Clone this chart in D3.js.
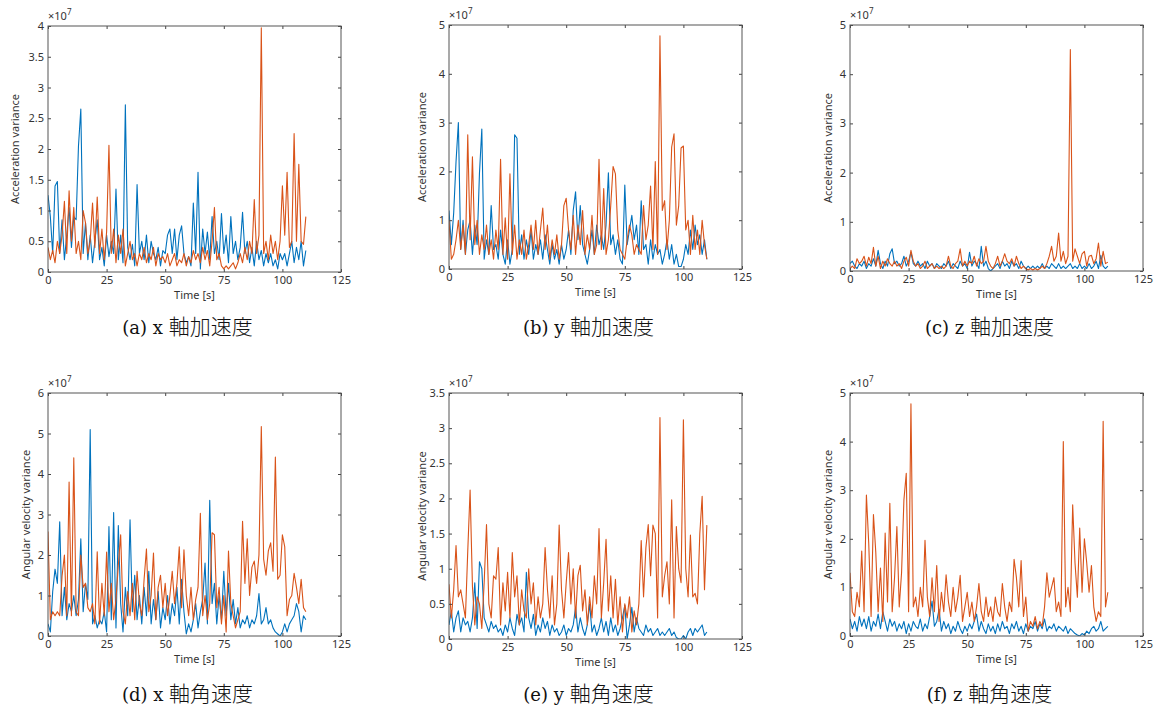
<!DOCTYPE html>
<html>
<head>
<meta charset="utf-8">
<script src="https://cdn.jsdelivr.net/npm/d3@7"></script>
<style>
  body { margin: 0; background: #fff; }
  svg text { font-family: "Noto Sans", sans-serif; }
</style>
</head>
<body>
<svg id="chart" width="1159" height="713"></svg>
<script>
// variance values, in units of 1e7, one sample per second (t = 0 .. 110)
const accXBlue = [
  1.25,0.9,0.3,1.4,1.47,0.3,0.85,0.2,0.6,1.05,
  0.4,0.9,0.85,2.05,2.65,0.3,0.8,0.2,0.6,0.15,
  0.5,0.85,0.2,0.4,0.1,0.6,0.25,0.5,0.3,1.35,
  0.2,0.6,0.15,2.72,0.4,0.2,0.45,0.1,1.42,0.3,
  0.5,0.2,0.6,0.15,0.5,0.3,0.2,0.4,0.1,0.35,
  0.3,0.6,0.7,0.3,0.7,0.2,0.6,0.75,0.3,0.15,
  0.25,0.1,1.12,0.3,1.62,0.05,0.7,0.3,0.65,0.2,
  0.9,0.3,0.5,0.2,0.95,0.3,0.6,0.15,0.9,0.3,
  0.5,0.2,0.4,0.97,0.3,0.5,0.15,0.4,0.1,0.5,
  0.2,0.35,0.1,0.3,0.15,0.3,0.1,0.2,0.05,0.3,
  0.2,0.3,0.1,0.3,0.5,0.15,0.4,0.2,0.5,0.1,0.35
];
const accXOrange = [
  0.4,0.2,0.35,0.15,0.5,0.3,0.6,1.15,0.3,1.32,
  0.5,1.05,0.3,0.5,0.2,1.0,0.8,0.3,0.5,1.12,
  0.4,1.22,0.3,0.7,0.2,0.65,2.06,0.3,0.7,0.15,
  0.6,0.3,0.7,0.1,0.3,0.5,0.2,0.3,0.1,0.3,
  0.2,0.4,0.15,0.3,0.2,0.4,0.1,0.3,0.2,0.25,
  0.15,0.3,0.1,0.2,0.3,0.1,0.2,0.15,0.3,0.1,
  0.25,0.15,0.35,0.2,0.3,0.15,0.4,0.2,0.35,0.1,
  0.5,1.05,0.2,0.3,0.1,0.05,0.1,0.05,0.1,0.15,
  0.05,0.15,0.3,0.15,0.4,0.2,0.5,0.3,1.18,0.3,
  0.6,3.97,0.3,0.5,0.2,0.6,0.3,0.5,0.2,0.5,
  1.4,0.6,1.62,0.4,0.5,2.25,0.5,1.75,0.5,0.45,0.9
];
const accYBlue = [
  1.2,0.5,1.15,2.2,3.0,0.4,1.0,0.3,0.8,1.0,
  0.3,0.9,0.5,1.97,2.87,0.2,0.6,0.3,1.3,0.4,
  0.5,0.2,0.8,0.3,0.1,0.6,0.1,0.4,2.75,2.68,
  0.3,0.7,0.2,0.6,0.3,0.8,0.2,0.5,0.3,0.6,
  0.2,0.7,0.4,0.1,0.5,0.2,0.4,0.1,0.5,0.2,
  0.4,0.8,0.3,1.2,1.58,0.6,1.3,0.5,0.3,0.1,
  0.4,0.8,0.3,0.9,0.5,0.7,0.4,0.9,1.97,0.5,
  0.7,0.3,0.6,0.2,0.1,1.72,0.5,0.8,1.1,0.6,
  0.9,0.3,1.4,0.4,0.5,0.1,0.6,0.2,0.5,0.3,
  0.4,0.1,0.3,0.6,0.2,0.5,0.1,0.3,0.05,0.05,
  0.2,0.5,0.3,0.8,0.4,0.9,0.5,0.7,0.3,0.6,0.2
];
const accYOrange = [
  1.0,0.2,0.3,0.6,1.0,0.4,0.9,0.3,2.75,0.6,
  2.3,0.5,1.0,0.3,0.7,0.4,0.9,0.3,0.6,0.2,
  0.8,0.4,2.25,0.3,1.05,0.2,1.95,0.3,0.9,0.2,
  0.6,0.3,0.8,0.2,0.5,0.9,0.4,1.0,0.3,0.8,
  1.25,0.4,0.9,0.2,0.6,0.3,0.7,0.2,0.5,1.3,
  1.45,0.8,0.4,1.1,0.3,0.9,0.5,1.2,0.3,0.7,
  0.4,1.1,0.3,0.5,2.25,0.4,1.65,0.3,0.6,1.3,
  2.1,1.95,0.8,0.4,0.3,0.2,0.6,0.9,0.7,0.3,
  0.5,0.4,0.3,1.3,0.6,0.9,1.7,0.4,2.2,0.3,
  4.78,1.2,1.4,0.4,1.0,2.5,2.77,0.9,1.3,2.48,
  2.52,0.8,1.0,0.3,1.1,0.4,0.8,0.3,1.0,0.5,0.2
];
const accZBlue = [
  0.15,0.2,0.1,0.05,0.15,0.1,0.2,0.05,0.15,0.1,
  0.25,0.1,0.42,0.15,0.05,0.2,0.1,0.35,0.45,0.15,
  0.2,0.1,0.15,0.3,0.1,0.2,0.38,0.15,0.1,0.2,
  0.1,0.15,0.05,0.2,0.1,0.15,0.05,0.15,0.1,0.05,
  0.15,0.1,0.2,0.05,0.15,0.1,0.05,0.2,0.1,0.15,
  0.05,0.38,0.1,0.2,0.15,0.05,0.5,0.1,0.2,0.05,
  0.0,0.05,0.1,0.15,0.05,0.2,0.1,0.15,0.05,0.2,
  0.1,0.15,0.05,0.2,0.1,0.05,0.1,0.05,0.1,0.05,
  0.1,0.05,0.15,0.05,0.1,0.05,0.15,0.1,0.05,0.15,
  0.05,0.1,0.05,0.1,0.15,0.05,0.1,0.05,0.15,0.05,
  0.1,0.05,0.15,0.05,0.1,0.2,0.05,0.32,0.1,0.05,0.1
];
const accZOrange = [
  0.05,0.1,0.05,0.25,0.15,0.2,0.3,0.1,0.28,0.15,
  0.48,0.1,0.3,0.05,0.2,0.1,0.25,0.15,0.1,0.2,
  0.1,0.15,0.05,0.2,0.28,0.1,0.42,0.2,0.1,0.15,
  0.05,0.1,0.2,0.05,0.1,0.15,0.05,0.1,0.05,0.1,
  0.05,0.1,0.3,0.1,0.05,0.15,0.2,0.45,0.1,0.2,
  0.1,0.2,0.15,0.3,0.1,0.25,0.15,0.2,0.5,0.2,
  0.1,0.05,0.15,0.3,0.1,0.2,0.35,0.2,0.15,0.25,
  0.1,0.3,0.15,0.05,0.1,0.05,0.02,0.05,0.02,0.05,
  0.02,0.05,0.1,0.05,0.15,0.3,0.5,0.2,0.3,0.77,
  0.2,0.4,0.15,0.3,4.5,0.2,0.45,0.3,0.15,0.35,
  0.4,0.1,0.3,0.32,0.15,0.25,0.57,0.1,0.4,0.15,0.18
];
const angXBlue = [
  0.3,0.1,1.1,1.65,1.3,2.82,0.5,1.2,0.4,0.8,
  0.6,1.0,0.5,0.9,2.4,0.6,1.3,0.9,5.1,0.3,
  0.5,0.2,0.4,0.3,0.6,0.1,2.7,0.4,3.05,0.2,
  2.73,0.8,0.1,1.2,0.5,2.87,0.6,1.5,0.4,1.0,
  0.3,1.2,0.5,1.6,0.3,0.9,0.4,1.1,0.2,0.7,
  0.4,1.0,0.3,0.8,0.5,1.2,0.3,1.4,0.6,0.05,
  0.3,0.1,0.4,0.8,0.2,0.6,0.9,1.8,0.3,3.35,
  0.8,1.3,0.3,1.0,0.4,1.6,0.5,1.3,0.4,0.9,
  0.3,0.7,0.2,0.4,0.3,0.5,0.2,0.4,0.3,0.5,
  1.05,0.3,0.4,0.7,0.3,0.4,0.2,0.1,0.05,0.0,
  0.1,0.3,0.1,0.3,0.4,0.5,0.8,0.6,0.1,0.5,0.4
];
const angXOrange = [
  2.58,0.4,0.6,0.5,0.6,0.5,1.48,2.0,0.5,3.8,
  0.5,4.4,0.6,0.5,2.0,1.2,1.3,0.7,0.6,0.8,
  0.3,2.08,0.3,1.3,0.5,2.07,0.6,1.3,0.4,0.9,
  1.75,2.5,0.6,0.3,1.1,0.5,1.3,0.4,1.6,0.8,
  0.5,1.4,2.15,0.6,1.0,2.05,0.4,1.2,1.5,0.7,
  1.3,0.5,1.0,1.6,0.8,1.3,2.2,0.7,2.13,1.0,
  0.5,1.2,0.4,0.9,1.2,3.03,0.5,1.0,0.4,0.8,
  2.55,2.5,0.7,1.2,0.3,1.0,0.1,2.1,0.8,0.5,
  0.2,0.4,0.6,2.83,1.3,2.4,1.0,1.7,1.85,1.3,
  2.0,5.17,1.9,1.5,2.1,2.3,1.6,4.42,1.4,1.5,
  2.5,2.2,0.5,0.9,1.0,1.55,1.2,0.8,1.4,0.7,0.6
];
const angYBlue = [
  0.2,0.4,0.1,0.3,0.4,0.1,0.3,0.2,0.25,0.1,
  0.3,0.8,0.15,1.1,1.0,0.3,0.2,0.1,0.25,0.15,
  0.2,0.1,0.15,0.05,0.2,0.1,0.3,0.15,0.05,0.35,
  0.2,0.3,0.1,0.95,0.3,0.15,0.35,0.05,0.2,0.1,
  0.3,0.15,0.25,0.05,0.2,0.1,0.15,0.05,0.1,0.2,
  0.05,0.15,0.1,0.2,0.45,0.1,0.3,0.15,0.05,0.2,
  0.5,0.1,0.2,0.05,0.15,0.3,0.1,0.25,0.05,0.3,
  0.1,0.2,0.05,0.15,0.3,0.48,0.0,0.2,0.45,0.1,
  0.3,0.15,0.1,0.05,0.2,0.1,0.15,0.05,0.1,0.15,
  0.05,0.1,0.05,0.1,0.15,0.05,0.1,0.02,0.0,0.0,
  0.05,0.0,0.1,0.15,0.05,0.15,0.1,0.15,0.2,0.05,0.1
];
const angYOrange = [
  0.78,0.3,0.7,1.33,0.6,0.7,0.5,0.3,1.25,2.12,
  0.75,0.2,0.6,0.5,0.15,0.8,1.63,0.5,0.3,0.9,
  0.85,1.3,0.2,0.8,0.4,0.95,0.3,1.23,0.6,0.9,
  0.2,0.7,0.4,0.3,1.0,0.5,0.8,0.2,0.6,0.3,
  0.5,1.3,0.7,0.3,0.9,0.2,0.5,1.62,0.7,0.3,
  0.8,1.23,0.5,1.0,0.3,0.9,1.05,0.4,0.7,0.2,
  0.6,0.3,0.9,0.5,1.57,0.3,0.8,1.42,0.4,0.9,
  0.3,0.85,0.2,0.6,0.1,0.5,0.3,0.6,0.1,0.4,
  0.2,0.5,1.4,0.6,1.3,1.63,0.9,1.62,1.5,0.3,
  3.15,0.6,0.9,1.1,0.5,1.98,0.3,1.6,1.0,0.8,
  3.12,1.0,0.6,1.48,0.6,0.65,0.5,1.5,2.03,0.7,1.62
];
const angZBlue = [
  0.35,0.15,0.3,0.1,0.4,0.2,0.35,0.15,0.4,0.1,
  0.3,0.2,0.45,0.15,0.5,0.3,0.1,0.35,0.2,0.3,
  0.1,0.25,0.15,0.3,0.05,0.25,0.1,0.3,0.2,0.15,
  0.35,0.1,0.25,0.15,0.4,0.72,0.2,0.3,0.55,0.1,
  0.3,0.15,0.25,0.05,0.2,0.1,0.3,0.15,0.05,0.2,
  0.1,0.25,0.15,0.3,0.45,0.1,0.3,0.15,0.05,0.25,
  0.1,0.2,0.05,0.25,0.1,0.3,0.15,0.2,0.05,0.25,
  0.15,0.3,0.1,0.2,0.05,0.25,0.1,0.2,0.15,0.3,
  0.1,0.25,0.15,0.35,0.1,0.2,0.15,0.25,0.1,0.2,
  0.15,0.1,0.2,0.05,0.15,0.1,0.05,0.02,0.0,0.05,
  0.02,0.1,0.05,0.15,0.2,0.1,0.15,0.3,0.1,0.15,0.2
];
const angZOrange = [
  1.3,0.5,0.4,0.9,0.6,1.75,0.5,2.9,1.9,0.4,
  2.5,1.72,0.5,1.4,0.3,2.12,0.7,2.73,0.5,1.2,
  2.25,0.6,1.3,2.8,3.35,0.5,4.78,0.6,0.8,0.4,
  1.0,0.6,1.97,0.8,0.4,1.2,0.5,1.45,0.3,0.9,
  0.5,1.26,0.7,0.4,1.0,0.5,0.8,1.25,0.3,0.6,
  0.9,0.4,0.7,0.3,0.6,1.08,0.5,0.3,0.8,0.4,
  0.6,0.3,0.8,0.5,0.4,1.08,0.6,0.3,0.7,0.5,
  1.58,1.2,0.6,1.55,0.4,0.8,0.1,0.3,0.2,0.4,
  0.15,0.3,0.2,0.6,1.3,0.8,1.0,1.2,0.5,0.7,
  0.4,4.0,0.6,1.0,0.5,2.7,1.5,0.8,2.22,0.9,
  2.0,1.5,0.9,1.45,0.6,0.3,0.5,0.4,4.42,0.6,0.9
];

// tick labels
const timeTicks = [0, 25, 50, 75, 100, 125];
const ticks4 = [0, 0.5, 1, 1.5, 2, 2.5, 3, 3.5, 4];
const ticks5 = [0, 1, 2, 3, 4, 5];
const ticks6 = [0, 1, 2, 3, 4, 5, 6];
const ticks35 = [0, 0.5, 1, 1.5, 2, 2.5, 3, 3.5];

const captions = ['(a) x ', '(b) y ', '(c) z ', '(d) x ', '(e) y ', '(f) z '];
const captionKanji = ['軸加速度', '軸加速度', '軸加速度', '軸角速度', '軸角速度', '軸角速度'];

const panels = [
  { blue: accXBlue, orange: accXOrange, yTicks: ticks4, yLabel: 'Acceleration variance', box: [48, 26, 341, 272], labelGap: 33, capY: 334 },
  { blue: accYBlue, orange: accYOrange, yTicks: ticks5, yLabel: 'Acceleration variance', box: [449, 25, 742, 269], labelGap: 27, capY: 334 },
  { blue: accZBlue, orange: accZOrange, yTicks: ticks5, yLabel: 'Acceleration variance', box: [850, 25, 1143, 271], labelGap: 22, capY: 334 },
  { blue: angXBlue, orange: angXOrange, yTicks: ticks6, yLabel: 'Angular velocity variance', box: [48, 393, 341, 636], labelGap: 22, capY: 701 },
  { blue: angYBlue, orange: angYOrange, yTicks: ticks35, yLabel: 'Angular velocity variance', box: [449, 393, 742, 639], labelGap: 27, capY: 701 },
  { blue: angZBlue, orange: angZOrange, yTicks: ticks5, yLabel: 'Angular velocity variance', box: [850, 393, 1143, 636], labelGap: 22, capY: 701 },
];

const svg = d3.select('#chart');

panels.forEach((p, k) => {
  const [x0, y0, x1, y1] = p.box;
  const x = d3.scaleLinear().domain([0, 125]).range([x0, x1]);
  const y = d3.scaleLinear().domain([0, d3.max(p.yTicks)]).range([y1, y0]);
  const g = svg.append('g');

  g.append('clipPath')
    .attr('id', 'clip' + k)
    .append('rect')
    .attr('x', x0).attr('y', y0)
    .attr('width', x1 - x0).attr('height', y1 - y0);

  const line = d3.line().x((d, i) => x(i)).y(d => y(d));

  // blue first, orange drawn over it
  [[p.blue, '#0072BD'], [p.orange, '#D95319']].forEach(([vals, color]) => {
    g.append('path')
      .datum(vals)
      .attr('clip-path', `url(#clip${k})`)
      .attr('fill', 'none')
      .attr('stroke', color)
      .attr('stroke-width', 1.1)
      .attr('stroke-linejoin', 'round')
      .attr('d', line);
  });

  const fmt = v => String(+v.toFixed(1));

  const bottom = g.append('g').attr('transform', `translate(0,${y1})`)
    .call(d3.axisBottom(x).tickValues(timeTicks).tickSize(-3).tickPadding(4).tickFormat(fmt));
  const left = g.append('g').attr('transform', `translate(${x0},0)`)
    .call(d3.axisLeft(y).tickValues(p.yTicks).tickSize(-3).tickPadding(4).tickFormat(fmt));
  const top = g.append('g').attr('transform', `translate(0,${y0})`)
    .call(d3.axisTop(x).tickValues(timeTicks).tickSize(-3).tickFormat(''));
  const right = g.append('g').attr('transform', `translate(${x1},0)`)
    .call(d3.axisRight(y).tickValues(p.yTicks).tickSize(-3).tickFormat(''));

  [bottom, left, top, right].forEach(a => {
    a.select('.domain').remove();
    a.selectAll('line').attr('stroke', '#444');
    a.selectAll('text')
      .attr('fill', '#333')
      .style('font-family', '"Noto Sans", sans-serif')
      .style('font-size', '11px');
  });

  g.append('rect')
    .attr('x', x0).attr('y', y0)
    .attr('width', x1 - x0).attr('height', y1 - y0)
    .attr('fill', 'none')
    .attr('stroke', '#555')
    .attr('stroke-width', 1);

  // x10^7 exponent
  const ex = g.append('text')
    .attr('x', x0)
    .attr('y', y0 - 6)
    .attr('fill', '#333')
    .style('font-size', '11px')
    .text('×10');
  ex.append('tspan').attr('dy', -5).style('font-size', '8px').text('7');

  g.append('text')
    .attr('x', (x0 + x1) / 2)
    .attr('y', y1 + 27)
    .attr('text-anchor', 'middle')
    .attr('fill', '#333')
    .style('font-size', '11px')
    .text('Time [s]');

  g.append('text')
    .attr('transform', `translate(${x0 - p.labelGap + 4},${(y0 + y1) / 2}) rotate(-90)`)
    .attr('text-anchor', 'middle')
    .attr('fill', '#333')
    .style('font-size', '11px')
    .text(p.yLabel);

  const cap = g.append('text')
    .attr('x', (x0 + x1) / 2 - 7)
    .attr('y', p.capY)
    .attr('text-anchor', 'middle')
    .attr('fill', '#111');
  cap.append('tspan').style('font-family', '"DejaVu Serif", serif').style('font-size', '18px').text(captions[k]);
  cap.append('tspan').style('font-family', '"Noto Sans CJK JP", sans-serif').style('font-size', '21px').style('font-weight', 300).text(captionKanji[k]);
});
</script>
</body>
</html>
